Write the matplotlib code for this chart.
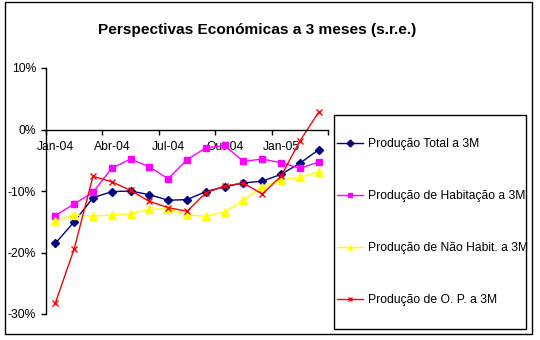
import matplotlib
matplotlib.use("Agg")
import matplotlib.pyplot as plt
from matplotlib.patches import Rectangle
from matplotlib.ticker import FixedLocator, FuncFormatter

plt.rcParams["font.family"] = ["Liberation Sans", "DejaVu Sans"]

months = ["Jan-04", "Fev-04", "Mar-04", "Abr-04", "Mai-04", "Jun-04", "Jul-04", "Ago-04",
          "Set-04", "Out-04", "Nov-04", "Dez-04", "Jan-05", "Fev-05", "Mar-05"]
label_every = 3

prod_total = [-18.5, -15.0, -11.1, -10.1, -10.0, -10.6, -11.5, -11.4, -10.1, -9.3, -8.7, -8.4, -7.3, -5.5, -3.3]
prod_habit = [-14.0, -12.1, -10.2, -6.3, -4.8, -6.1, -8.0, -4.9, -3.0, -2.6, -5.2, -4.8, -5.4, -6.3, -5.3]
prod_nao_habit = [-14.9, -13.9, -14.1, -13.9, -13.7, -13.0, -12.9, -13.9, -14.1, -13.4, -11.5, -9.3, -8.2, -7.8, -6.9]
prod_op = [-28.2, -19.4, -7.6, -8.5, -9.9, -11.7, -12.7, -13.3, -10.3, -9.2, -8.7, -10.5, -7.6, -1.9, 2.8]

series_names = ["Produção Total a 3M", "Produção de Habitação a 3M",
                "Produção de Não Habit. a 3M", "Produção de O. P. a 3M"]
y_ticks = [-30, -20, -10, 0, 10]


def main():
    fig = plt.figure(figsize=(5.4, 3.4), dpi=100)
    fig.patch.set_facecolor("white")

    # outer chart border, like the excel chart area
    fig.add_artist(Rectangle((5 / 540, 1 - 334 / 340), 527 / 540, 332 / 340,
                             transform=fig.transFigure, fill=False, ec="black", lw=1))

    ax = fig.add_axes([46 / 540, 1 - 314 / 340, 282 / 540, 246 / 340])
    x = list(range(len(months)))

    ax.plot(x, prod_total, color="#000080", lw=1, marker="D", ms=4.5, label=series_names[0])
    ax.plot(x, prod_habit, color="#FF00FF", lw=1, marker="s", ms=4.5, label=series_names[1])
    ax.plot(x, prod_nao_habit, color="#FFFF00", lw=1, marker="^", ms=6, label=series_names[2])
    ax.plot(x, prod_op, color="#FF0000", lw=1, marker="x", ms=5, mew=1, label=series_names[3])

    ax.set_xlim(-0.5, len(months) - 0.5)
    ax.set_ylim(-30, 10)

    ax.spines["top"].set_visible(False)
    ax.spines["right"].set_visible(False)
    ax.spines["bottom"].set_position(("data", 0))
    ax.spines["left"].set_linewidth(1)
    ax.spines["bottom"].set_linewidth(1)

    # category boundaries carry the ticks, labels sit at category centres
    bounds = [i - 0.5 for i in range(0, len(months) + 1, label_every)]
    ax.xaxis.set_major_locator(FixedLocator(bounds))
    ax.xaxis.set_major_formatter(FuncFormatter(lambda v, p: ""))
    centres = list(range(0, len(months), label_every))
    ax.xaxis.set_minor_locator(FixedLocator(centres))
    ax.xaxis.set_minor_formatter(FuncFormatter(lambda v, p: months[int(round(v))]))
    ax.tick_params(axis="x", which="major", direction="out", length=3.6, width=1)
    ax.tick_params(axis="x", which="minor", length=0, labelsize=8.7, pad=8)

    ax.set_yticks(y_ticks)
    ax.set_yticklabels([f"{v}%" for v in y_ticks])
    ax.tick_params(axis="y", direction="out", length=3.6, width=1, labelsize=8.7, pad=3.6)

    fig.text(0.477, 1 - 34 / 340, "Perspectivas Económicas a 3 meses (s.r.e.)",
             ha="center", va="baseline", fontsize=11.1, fontweight="bold")

    # legend box drawn separately so its size matches the reference
    fig.add_artist(Rectangle((334 / 540, 1 - 329 / 340), 192 / 540, 214 / 340,
                             transform=fig.transFigure, fill=False, ec="black", lw=1))
    leg = fig.legend(loc="center left", bbox_to_anchor=(337 / 540, 1 - 222 / 340),
                     fontsize=8.7, frameon=False, labelspacing=3.3, handlelength=2.15,
                     handletextpad=0.4, borderaxespad=0, borderpad=0)
    for h in leg.legend_handles:
        h.set_markersize(3.5)

    fig.savefig("out.png", dpi=100)


if __name__ == "__main__":
    main()
